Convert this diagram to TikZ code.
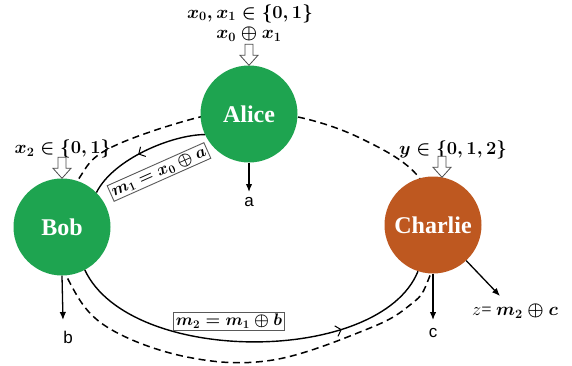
\documentclass[tikz,border=0pt]{standalone}
\usepackage{fontspec}
\setmainfont{Liberation Serif}
\newfontfamily\arialfont{Liberation Sans}
\usetikzlibrary{arrows.meta,decorations.markings}
\definecolor{agreen}{RGB}{30,164,80}
\definecolor{corange}{RGB}{190,88,32}
\begin{document}
\begin{tikzpicture}[x=1pt,y=-1pt,
  party/.style={circle, minimum size=97pt, inner sep=0pt, text=white,
    font=\fontsize{24}{24}\selectfont\bfseries},
  outarrow/.style={-{Latex[length=8pt,width=6.5pt]}, line width=1.3pt},
  mathlbl/.style={font=\fontsize{17.28}{20}\selectfont\boldmath, inner sep=0pt, scale=1.06},
  sanslbl/.style={font=\fontsize{17}{17}\selectfont\arialfont, inner sep=0pt},
  msgbox/.style={draw=black!65, line width=0.9pt, fill=white, inner sep=2pt,
    font=\fontsize{17.28}{18}\selectfont\boldmath, scale=0.97},
  ring/.style={line width=1.5pt, dash pattern=on 7pt off 4.5pt},
  channel/.style={line width=1.4pt, postaction={decorate},
    decoration={markings, mark=at position #1 with
      {\arrow{Straight Barb[length=5pt,width=11pt,line width=1pt]}}}},
  inarr/.pic={\draw[line width=0.8pt, draw=black!70, fill=white]
    (0,0) -- (-9,-10) -- (-4,-10) -- (-4,-21) -- (4,-21) -- (4,-10) -- (9,-10) -- cycle;}
]
\path[use as bounding box] (0,0) rectangle (572,366);

% dashed ring
\draw[ring] plot[smooth cycle, tension=0.62] coordinates {
  (249,114) (298,117) (360,138) (417,175) (440,230) (427,283) (410,305)
  (370,328) (273,360) (187,357) (107,327) (70,283) (55,230) (78,180)
  (110,148) (200,117)};

% parties
\node[party, fill=agreen] (alice) at (249,114) {Alice};
\node[party, fill=agreen] (bob) at (62,227) {Bob};
\node[party, fill=corange] (charlie) at (433,225) {Charlie};

% channels
\draw[channel=0.55] (alice.205) .. controls +(-32,0) and +(17,-34) .. (bob.45);
\draw[channel=0.74] (bob.-62) .. controls +(45,96) and +(-38,94) .. (charlie.-108);

% message labels
\node[msgbox, rotate=24] (m1) at (159,172) {$m_1 = x_0 \oplus a$};
\node[msgbox] (m2) at (229,321) {$m_2 = m_1 \oplus b$};

% inputs
\node[mathlbl] (ain1) at (250,13.5) {$x_0, x_1 \in \{0,1\}$};
\node[mathlbl] (ain2) at (249,34) {$x_0 \oplus x_1$};
\pic at (alice.north) {inarr};
\node[mathlbl] (bin) at (63,149) {$x_2 \in \{0,1\}$};
\pic at (bob.north) {inarr};
\node[mathlbl] (cin) at (453,150) {$y \in \{0,1,2\}$};
\pic at ([xshift=9pt,yshift=-1pt]charlie.north) {inarr};

% outputs
\coordinate (aend) at (249,192);
\coordinate (bend) at (63,320);
\coordinate (cend) at (433,320);
\coordinate (zend) at (500,296);
\draw[outarrow] (alice.south) -- (aend);
\draw[outarrow] (bob.south) -- (bend);
\draw[outarrow] (charlie.south) -- (cend);
\draw[outarrow] (charlie.-47) -- (zend);
\node[sanslbl, anchor=north] (a) at ([yshift=-5pt]aend) {a};
\node[sanslbl, anchor=north] (b) at ([xshift=5pt,yshift=-11pt]bend) {b};
\node[sanslbl, anchor=north] (c) at ([yshift=-8pt]cend) {c};
\node[font=\fontsize{17.28}{18}\selectfont, inner sep=0pt, scale=1.06] (z) at (515,311)
  {$z$= {\boldmath$m_2 \oplus c$}};
\end{tikzpicture}
\end{document}
